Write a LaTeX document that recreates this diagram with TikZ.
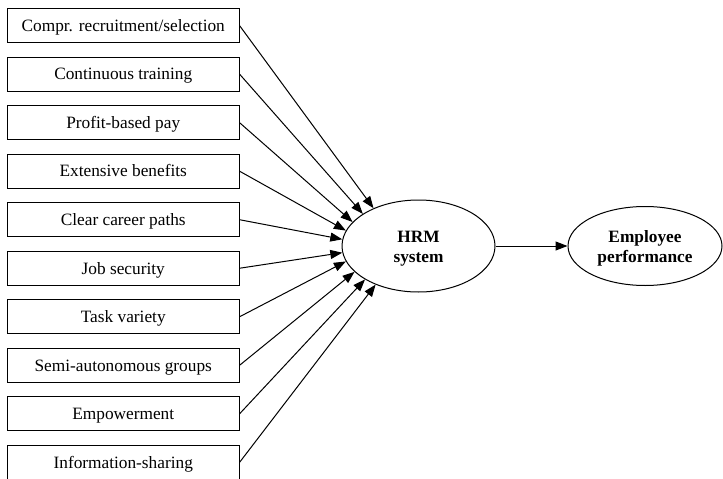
\documentclass[tikz,border=0pt]{standalone}
\usepackage{fontspec}
\setmainfont{Liberation Serif}
\usetikzlibrary{arrows.meta,shapes.geometric}
\newcommand{\ovaltext}[1]{\raisebox{-7pt}[0pt][0pt]{\begin{tabular}{@{}c@{}}#1\end{tabular}}}
\begin{document}
\begin{tikzpicture}[x=1pt,y=-1pt,
  factor/.style={draw,line width=1pt,minimum width=231.5pt,minimum height=34pt,inner sep=0pt,text height=11.6pt,text depth=0pt,font=\fontsize{17.3}{19}\selectfont},
  oval/.style={draw,ellipse,line width=1pt,inner sep=0pt,font=\fontsize{17.3}{20}\selectfont\bfseries},
  link/.style={line width=1pt,-{Triangle[length=12pt,width=9pt]}}]
\useasboundingbox (0,0) rectangle (723,479);
\foreach \i/\t in {1/Compr. recruitment\slash selection,2/Continuous training,3/Profit-based pay,4/Extensive benefits,5/Clear career paths,6/Job security,7/Task variety,8/Semi-autonomous groups,9/Empowerment,10/Information-sharing}
  \node[factor] (b\i) at (123.25,{25.5+(\i-1)*48.55}) {\t};
\node[oval,minimum width=153pt,minimum height=92pt] (hrm) at (418.5,246) {\ovaltext{HRM\\system}};
\node[oval,minimum width=154pt,minimum height=79pt] (emp) at (645,246) {\ovaltext{Employee\\performance}};
\foreach \i/\a in {1/140,2/150,3/160,4/168,5/175,6/185,7/192,8/202,9/212,10/222}
  \draw[link] (b\i.east) -- (hrm.\a);
\draw[link] (hrm.east) -- (emp.west);
\end{tikzpicture}
\end{document}
